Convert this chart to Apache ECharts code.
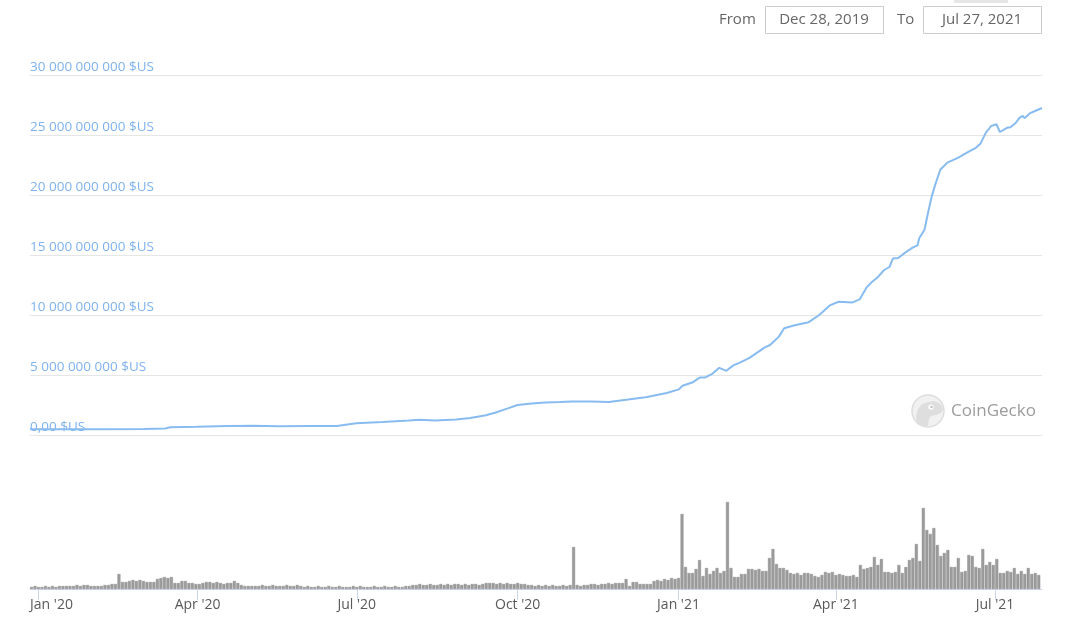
<!DOCTYPE html>
<html>
<head>
<meta charset="utf-8">
<script src="https://cdn.jsdelivr.net/npm/echarts@6/dist/echarts.min.js"></script>
<style>
html,body{margin:0;padding:0;background:#fff;}
#chart{width:1068px;height:637px;}
</style>
</head>
<body>
<div id="chart"></div>
<script>
// ---- Market cap line (billions of $US) ----
const capDates = [
  '2019-12-28','2020-01-15','2020-02-08','2020-03-02','2020-03-14','2020-03-17','2020-04-01','2020-04-19','2020-05-03','2020-05-18',
  '2020-06-05','2020-06-20','2020-06-26','2020-07-01','2020-07-16','2020-07-31','2020-08-06','2020-08-15','2020-08-27','2020-09-04',
  '2020-09-13','2020-09-19','2020-09-25','2020-10-01','2020-10-09','2020-10-17','2020-10-25','2020-11-01','2020-11-12','2020-11-22',
  '2020-12-03','2020-12-13','2020-12-18','2020-12-25','2021-01-01','2021-01-03','2021-01-09','2021-01-13','2021-01-16','2021-01-20',
  '2021-01-24','2021-01-28','2021-02-01','2021-02-05','2021-02-10','2021-02-15','2021-02-19','2021-02-22','2021-02-27','2021-03-02',
  '2021-03-08','2021-03-16','2021-03-22','2021-03-28','2021-04-02','2021-04-10','2021-04-14','2021-04-18','2021-04-21','2021-04-24',
  '2021-04-28','2021-05-01','2021-05-03','2021-05-06','2021-05-10','2021-05-14','2021-05-17','2021-05-18','2021-05-21','2021-05-23',
  '2021-05-25','2021-05-27','2021-05-30','2021-06-03','2021-06-09','2021-06-15','2021-06-19','2021-06-22','2021-06-25','2021-06-28',
  '2021-07-01','2021-07-03','2021-07-04','2021-07-07','2021-07-09','2021-07-12','2021-07-14','2021-07-16','2021-07-17','2021-07-20',
  '2021-07-23','2021-07-27'
];
const capValues = [
  0.47,0.47,0.48,0.50,0.55,0.64,0.68,0.74,0.78,0.72,
  0.75,0.75,0.88,0.97,1.08,1.20,1.27,1.20,1.30,1.42,
  1.65,1.90,2.20,2.50,2.62,2.70,2.75,2.80,2.80,2.75,
  2.95,3.15,3.30,3.50,3.80,4.10,4.40,4.80,4.80,5.10,
  5.60,5.35,5.80,6.05,6.40,6.90,7.30,7.50,8.20,8.90,
  9.15,9.40,10.0,10.8,11.1,11.05,11.3,12.3,12.75,13.1,
  13.75,14.0,14.7,14.75,15.2,15.6,15.8,16.4,17.1,18.5,
  19.8,20.8,22.1,22.7,23.1,23.6,23.9,24.3,25.2,25.75,
  25.9,25.25,25.2,25.6,25.65,26.0,26.4,26.6,26.4,26.8,
  27.0,27.25
];

// ---- Volume bars (millions of $US), one bar every 2 days from volStart ----
const volStart = [2019, 11, 28];
const volStepDays = 2;
const volValues = [
  100,150,100,100,150,100,150,100,150,150,
  150,150,150,200,150,200,200,150,150,150,
  150,200,200,250,250,750,350,350,400,450,
  400,450,400,350,350,350,500,550,600,550,
  600,300,300,400,400,300,300,250,250,300,
  350,350,300,350,300,250,300,300,400,300,
  200,150,150,150,150,150,200,150,150,200,
  150,150,150,200,150,150,200,150,100,150,
  100,100,150,100,100,150,100,100,150,100,
  100,100,150,100,150,100,100,100,150,100,
  100,150,100,100,150,100,100,150,150,200,
  200,250,200,200,250,200,200,250,200,250,
  200,250,250,200,250,200,250,250,200,250,
  300,300,300,250,300,250,300,250,250,300,
  250,250,200,200,150,200,150,200,150,200,
  150,150,200,150,200,2100,200,150,200,200,
  250,250,200,250,250,300,250,300,300,300,
  500,150,350,350,250,250,250,250,400,450,
  400,500,450,550,500,550,3750,1100,800,800,
  1000,1450,650,1050,750,900,1050,800,900,4350,
  1050,600,600,750,750,1000,1000,950,1000,900,
  900,1550,2000,1250,1050,1050,950,800,750,800,
  700,800,800,750,650,600,700,850,800,850,
  700,750,700,650,650,700,600,1200,1000,1050,
  1100,1600,1200,1500,850,850,800,850,1200,800,
  1100,1450,1550,2250,1400,4050,2950,2750,3050,2200,
  1650,1800,1950,1100,1100,1550,850,900,1700,1650,
  1100,1050,2000,1200,1350,1200,1500,800,800,900,
  850,1050,750,900,750,1050,750,800,700
];

// ---- Axis labels ----
const monthNames = ['Jan','Feb','Mar','Apr','May','Jun','Jul','Aug','Sep','Oct','Nov','Dec'];
const yTickStep = 5;      // billions
const yTickMax = 30;      // billions
const rangeFrom = 'Dec 28, 2019';
const rangeTo = 'Jul 27, 2021';

const axisMin = new Date(2019, 11, 28).getTime();
const axisMax = new Date(2021, 6, 27).getTime();
const firstTick = new Date(2020, 0, 1).getTime();
const DAY = 86400000;

function fmtDate(y, m, d) {
  const dt = new Date(y, m, d);
  return dt.getFullYear() + '-' + String(dt.getMonth() + 1).padStart(2, '0') + '-' + String(dt.getDate()).padStart(2, '0');
}
const lineData = capDates.map((d, i) => [d, capValues[i]]);
const volData = volValues.map((v, i) => [fmtDate(volStart[0], volStart[1], volStart[2] + i * volStepDays), v]);

function groupDigits(n) {
  return String(n).replace(/\B(?=(\d{3})+(?!\d))/g, ' ');
}
function yLabel(v) {
  if (v === 0) return '0,00 $US';
  return groupDigits(Math.round(v * 1e9)) + ' $US';
}

const FONT = 'Open Sans';
const chart = echarts.init(document.getElementById('chart'), null, {renderer: 'canvas'});
chart.setOption({
  animation: false,
  backgroundColor: '#ffffff',
  textStyle: {fontFamily: FONT},
  grid: [
    {left: 30, right: 26, top: 75, bottom: 202},
    {left: 30, right: 26, top: 489, bottom: 48}
  ],
  xAxis: [
    {
      type: 'time', gridIndex: 0, min: axisMin, max: axisMax,
      show: false, splitLine: {show: false}
    },
    {
      type: 'time', gridIndex: 1, min: axisMin, max: axisMax,
      minInterval: 89 * DAY, maxInterval: 93 * DAY,
      axisLine: {show: true, lineStyle: {color: '#ccd6eb', width: 1}},
      axisTick: {show: true, length: 11, lineStyle: {color: '#ccd6eb', width: 1}},
      splitLine: {show: false},
      axisLabel: {
        color: '#595959', fontSize: 14, fontFamily: FONT, margin: 9,
        hideOverlap: false,
        formatter: function (val) {
          const d = new Date(val);
          const txt = monthNames[d.getMonth()] + " '" + String(d.getFullYear()).slice(2);
          return Math.abs(val - firstTick) < DAY ? '{first|' + txt + '}' : txt;
        },
        rich: {
          first: {color: '#595959', fontSize: 14, fontFamily: FONT, padding: [0, 0, 0, 26]}
        }
      }
    }
  ],
  yAxis: [
    {
      type: 'value', gridIndex: 0, min: 0, max: yTickMax, interval: yTickStep,
      axisLine: {show: false}, axisTick: {show: false},
      splitLine: {show: true, lineStyle: {color: '#e6e6e6', width: 1}},
      axisLabel: {
        inside: true, align: 'left', verticalAlign: 'bottom', margin: 0,
        color: '#7fb2ee', fontSize: 13.5, fontFamily: FONT,
        padding: [0, 0, 1, 0],
        formatter: yLabel
      }
    },
    {
      type: 'value', gridIndex: 1, min: 0, max: 5000, show: false,
      splitLine: {show: false}
    }
  ],
  series: [
    {
      name: 'Market Cap', type: 'line', xAxisIndex: 0, yAxisIndex: 0,
      data: lineData, showSymbol: false, symbol: 'none',
      lineStyle: {color: '#88bcf0', width: 2},
      z: 3
    },
    {
      name: 'Volume', type: 'bar', xAxisIndex: 1, yAxisIndex: 1,
      data: volData, barWidth: 3,
      itemStyle: {color: '#9c9c9c', borderColor: '#888888', borderWidth: 0.4}
    }
  ],
  graphic: [
    {type: 'rect', shape: {x: 954, y: 0, width: 54, height: 3}, style: {fill: '#e6e6e6'}},
    {type: 'text', x: 719, y: 20, style: {text: 'From', fill: '#666666', font: '15px "' + FONT + '"', verticalAlign: 'middle'}},
    {type: 'rect', shape: {x: 765.5, y: 6.5, width: 118, height: 27}, style: {fill: '#ffffff', stroke: '#cccccc', lineWidth: 1}},
    {type: 'text', x: 824, y: 20, style: {text: rangeFrom, fill: '#666666', font: '15px "' + FONT + '"', align: 'center', verticalAlign: 'middle'}},
    {type: 'text', x: 897, y: 20, style: {text: 'To', fill: '#666666', font: '15px "' + FONT + '"', verticalAlign: 'middle'}},
    {type: 'rect', shape: {x: 923.5, y: 6.5, width: 118, height: 27}, style: {fill: '#ffffff', stroke: '#cccccc', lineWidth: 1}},
    {type: 'text', x: 982, y: 20, style: {text: rangeTo, fill: '#666666', font: '15px "' + FONT + '"', align: 'center', verticalAlign: 'middle'}},
    // CoinGecko watermark
    {type: 'circle', shape: {cx: 928, cy: 411, r: 16}, style: {fill: '#f1f1f1', stroke: '#dddddd', lineWidth: 1.5}, z: 1},
    {type: 'polygon', shape: {points: [[917,424],[916,416],[918,409],[922,404],[928,402],[934,401],[939,403],[942,406],[943,410],[941,413],[936,415],[931,416],[929,419],[928,426],[922,426]]}, style: {fill: '#dedede'}, z: 2},
    {type: 'circle', shape: {cx: 931, cy: 407, r: 2.6}, style: {fill: '#ffffff'}, z: 3},
    {type: 'circle', shape: {cx: 931.5, cy: 407, r: 1.2}, style: {fill: '#bdbdbd'}, z: 4},
    {type: 'text', x: 951, y: 411, style: {text: 'CoinGecko', fill: '#9c9c9c', font: '17px "' + FONT + '"', verticalAlign: 'middle'}, z: 2}
  ]
});
</script>
</body>
</html>
